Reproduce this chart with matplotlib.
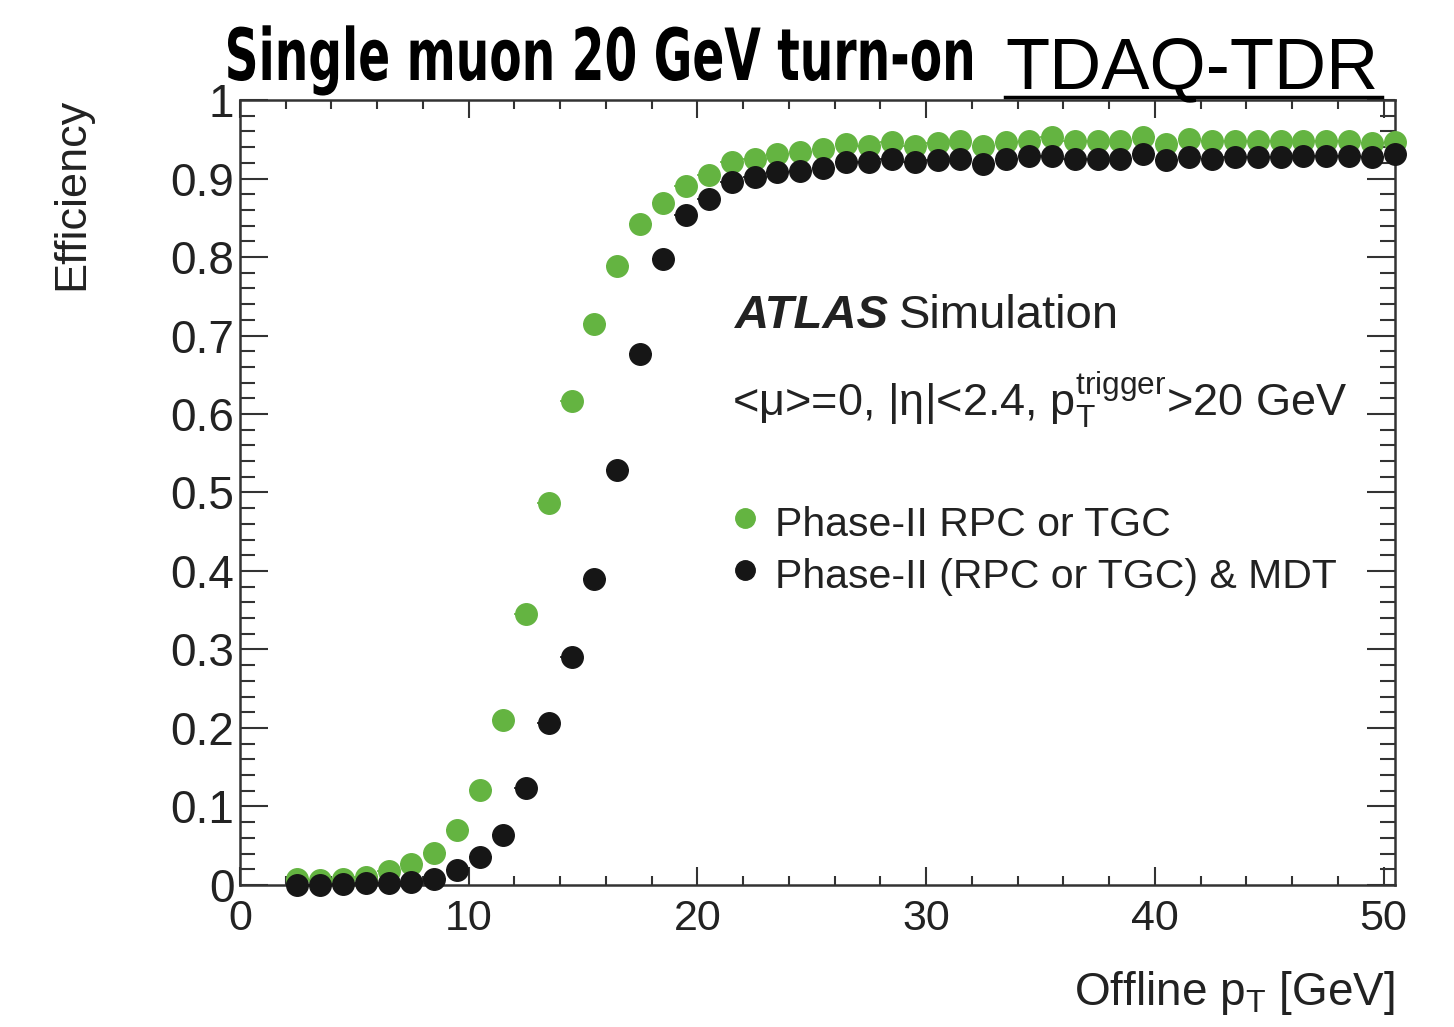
import numpy as np
import matplotlib
matplotlib.use("Agg")
import matplotlib.pyplot as plt
from matplotlib.lines import Line2D
from matplotlib.ticker import MultipleLocator
from matplotlib.textpath import TextPath
from matplotlib.patches import PathPatch
from matplotlib.font_manager import FontProperties
from matplotlib.transforms import Affine2D

plt.rcParams['font.family'] = ['Liberation Sans', 'DejaVu Sans']
plt.rcParams['mathtext.fontset'] = 'custom'
plt.rcParams['mathtext.rm'] = 'Liberation Sans'
plt.rcParams['mathtext.it'] = 'Liberation Sans:italic'

# offline pT bin centres [GeV]
pt = [2.5, 3.5, 4.5, 5.5, 6.5, 7.5, 8.5, 9.5, 10.5, 11.5,
      12.5, 13.5, 14.5, 15.5, 16.5, 17.5, 18.5, 19.5, 20.5, 21.5,
      22.5, 23.5, 24.5, 25.5, 26.5, 27.5, 28.5, 29.5, 30.5, 31.5,
      32.5, 33.5, 34.5, 35.5, 36.5, 37.5, 38.5, 39.5, 40.5, 41.5,
      42.5, 43.5, 44.5, 45.5, 46.5, 47.5, 48.5, 49.5, 50.5]

# Phase-II RPC or TGC
eff_rpc_tgc = [0.007, 0.006, 0.008, 0.010, 0.018, 0.027, 0.041, 0.070, 0.121, 0.210,
               0.345, 0.486, 0.617, 0.715, 0.788, 0.842, 0.869, 0.891, 0.904, 0.921,
               0.925, 0.931, 0.934, 0.938, 0.944, 0.942, 0.946, 0.942, 0.945, 0.948,
               0.942, 0.946, 0.948, 0.953, 0.948, 0.948, 0.948, 0.953, 0.944, 0.950,
               0.948, 0.948, 0.948, 0.948, 0.948, 0.948, 0.948, 0.945, 0.947]

# Phase-II (RPC or TGC) & MDT
eff_mdt = [0.000, 0.000, 0.001, 0.002, 0.002, 0.004, 0.007, 0.019, 0.035, 0.064,
           0.123, 0.206, 0.290, 0.390, 0.529, 0.677, 0.798, 0.853, 0.874, 0.895,
           0.902, 0.908, 0.910, 0.914, 0.921, 0.921, 0.925, 0.921, 0.924, 0.925,
           0.919, 0.925, 0.929, 0.929, 0.925, 0.925, 0.925, 0.931, 0.923, 0.927,
           0.925, 0.927, 0.927, 0.927, 0.929, 0.929, 0.929, 0.927, 0.931]

title = 'Single muon 20 GeV turn-on'
tag = 'TDAQ-TDR'

green = '#64b441'
black = '#161616'
txt = '#222222'

fig = plt.figure(figsize=(14.54, 10.27), dpi=100)
ax = fig.add_axes([0.165, 0.1383, 0.7944, 0.7643])

for y, c in [(eff_rpc_tgc, green), (eff_mdt, black)]:
    ax.errorbar(pt, y, xerr=0.5, fmt='o', color=c, ms=15.5, mec=c,
                elinewidth=1.2, capsize=0, clip_on=False, zorder=3)

ax.set_xlim(0, 50.5)
ax.set_ylim(0, 1)
ax.xaxis.set_minor_locator(MultipleLocator(2))
ax.yaxis.set_minor_locator(MultipleLocator(0.02))
ax.set_xticks([0, 10, 20, 30, 40, 50])
ax.set_xticklabels(['0', '10', '20', '30', '40', '50'])
ax.set_yticks([0, 0.1, 0.2, 0.3, 0.4, 0.5, 0.6, 0.7, 0.8, 0.9, 1.0])
ax.set_yticklabels(['0', '0.1', '0.2', '0.3', '0.4', '0.5', '0.6', '0.7', '0.8', '0.9', '1'])

ax.tick_params(axis='both', which='both', direction='in', top=True, right=True,
               width=1.5, color='#333333', labelcolor=txt)
ax.tick_params(axis='x', which='major', length=13, pad=10, labelsize=31)
ax.tick_params(axis='x', which='minor', length=6.5)
ax.tick_params(axis='y', which='major', length=20, pad=4, labelsize=33)
ax.tick_params(axis='y', which='minor', length=11)
for s in ax.spines.values():
    s.set_linewidth(1.8)
    s.set_color('#333333')

# axis titles
fig.text(72 / 1454, 1 - 98 / 1027, 'Efficiency', rotation=90, ha='center', va='top',
         fontsize=32.5, color=txt)
fig.text(1395 / 1454, 1 - 1005 / 1027, r'Offline p$_{\mathrm{T}}$ [GeV]', ha='right',
         va='baseline', fontsize=33, color=txt)

# ATLAS label and selection
ax.text(0.4286, 0.709, 'ATLAS', transform=ax.transAxes, fontsize=34,
        fontweight='bold', fontstyle='italic', color=txt)
ax.text(0.5704, 0.709, 'Simulation', transform=ax.transAxes, fontsize=34, color=txt)
ax.text(0.426, 0.597,
        '<μ>=0, |η|<2.4, ' + r'$\mathrm{p}_{\mathrm{T}}^{\mathrm{trigger}}$' + '>20 GeV',
        transform=ax.transAxes, fontsize=32.5, color=txt)

# legend
ax.plot([0.437], [0.467], 'o', ms=14, color=green, transform=ax.transAxes, clip_on=False)
ax.text(0.463, 0.445, 'Phase-II RPC or TGC', transform=ax.transAxes, fontsize=29.5,
        color=txt)
ax.plot([0.437], [0.401], 'o', ms=14, color=black, transform=ax.transAxes, clip_on=False)
ax.text(0.463, 0.378, 'Phase-II (RPC or TGC) & MDT', transform=ax.transAxes, fontsize=29.5,
        color=txt)

# headline in a condensed bold look: squeeze a bold text path horizontally
tp = TextPath((0, 0), title, size=72, prop=FontProperties(family='DejaVu Sans', weight='bold'))
ext = tp.get_extents()
sx = 744 / ext.width
fig.add_artist(PathPatch(tp, transform=Affine2D().translate(-ext.x0, 0).scale(sx, 1.0)
                         .translate(228, 1027 - 80), color='black', lw=0))

fig.text(1005 / 1454, 1 - 88 / 1027, tag, fontsize=52, color='black', va='baseline')
fig.add_artist(Line2D([1005 / 1454, 1382 / 1454], [1 - 97 / 1027, 1 - 97 / 1027],
                      transform=fig.transFigure, color='black', lw=2.5))

fig.savefig('out.png', dpi=100)
